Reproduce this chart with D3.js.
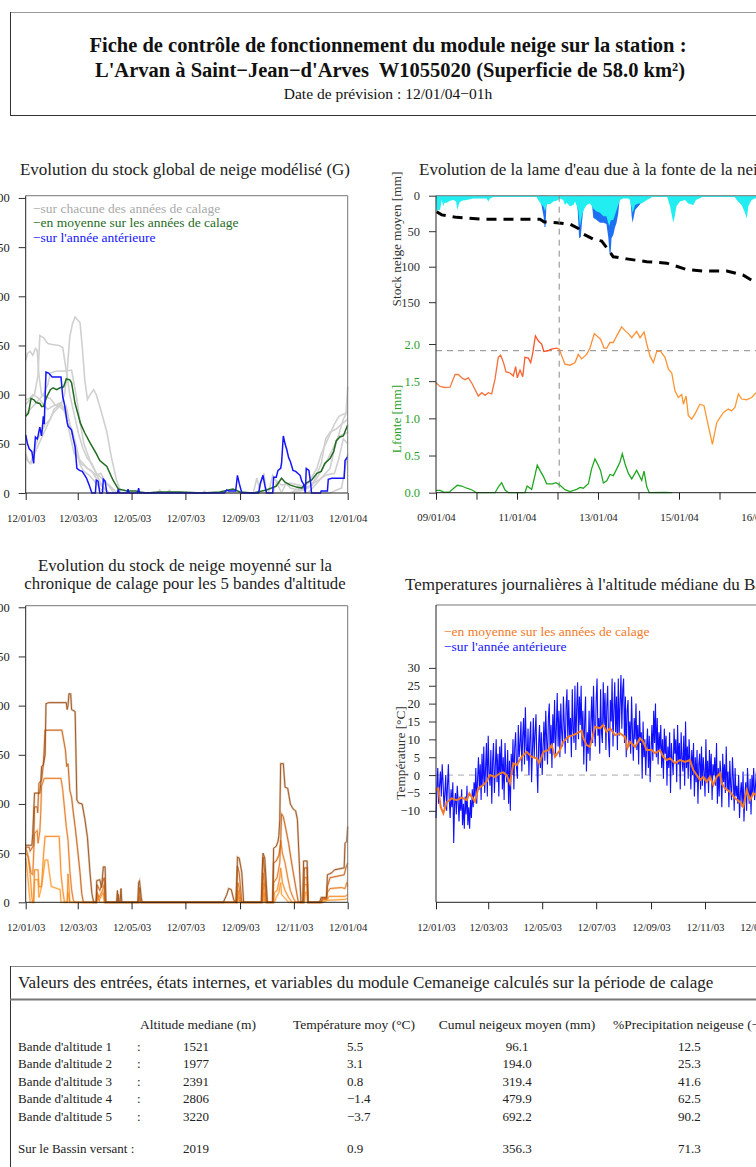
<!DOCTYPE html>
<html><head><meta charset="utf-8">
<script src="https://cdn.jsdelivr.net/npm/d3@7"></script>
<style>
body{margin:0;background:#fff;overflow:hidden}
svg{display:block}
text{font-family:"Liberation Serif","Times New Roman",serif}
</style>
</head><body>
<svg id="c" width="756" height="1167"></svg>
<script>
// ---------------- DATA ----------------
const yearTicks = ["12/01/03","12/03/03","12/05/03","12/07/03","12/09/03","12/11/03","12/01/04"];
const stockTicks = [0,50,100,150,200,250,300];

// Chart 1 : stock global G  [day since 12/01/03, mm]
const grayG1 = [[0,35],[5,30],[10,40],[20,60],[30,80],[40,90],[44,100],[46.5,118],[50,159],[53,172],[56,179],[59,176],[61.6,173],[64,150],[67,115],[70,95],[73,100],[77,105],[80,100],[84,88],[88,75],[92,62],[97,37],[103,13],[108,0],[150,0],[152,3],[154,0],[200,0],[203,2],[205,0],[300,0],[310,5],[320,10],[330,25],[335,40],[340,50],[345,60],[350,70],[355,78],[360,80],[365,82]];
const grayG2 = [[0,90],[5,95],[10,100],[14,120],[16,160],[20,158],[25,152],[30,151],[38,150],[42,148],[45,130],[50,100],[55,80],[60,60],[65,45],[70,35],[75,30],[80,20],[85,10],[90,3],[95,0],[258,0],[262,15],[265,5],[270,20],[273,0],[320,0],[330,10],[340,20],[345,25],[350,45],[355,60],[360,75],[363,80],[365,108]];
const grayG3 = [[0,135],[2,142],[5,144],[8,140],[11,147],[13,145],[15,120],[18,100],[22,98],[28,96],[33,90],[38,88],[42,85],[46,88],[50,70],[54,60],[58,45],[62,30],[66,28],[70,25],[75,22],[80,15],[85,8],[90,4],[95,0],[160,0],[163,3],[165,0],[300,0],[315,3],[330,12],[340,18],[350,20],[355,35],[360,55],[365,50]];
const grayG4 = [[0,80],[5,85],[10,90],[15,95],[20,100],[25,110],[28,122],[35,124],[45,124],[52,125],[55,110],[58,95],[62,70],[66,50],[70,40],[74,30],[80,20],[86,15],[92,10],[98,5],[104,0],[290,0],[295,10],[300,5],[310,3],[325,8],[335,30],[340,55],[345,62],[352,65],[358,70],[365,75]];
const grayG5 = [[0,40],[3,32],[6,30],[10,45],[14,55],[18,62],[22,70],[28,75],[32,85],[38,90],[42,88],[46,85],[50,70],[54,55],[58,40],[62,28],[66,22],[72,18],[78,12],[84,5],[90,0],[275,0],[280,18],[285,10],[290,0],[345,0],[350,2],[358,5],[365,40]];
const grayG6 = [[0,95],[4,96],[8,100],[12,98],[16,95],[20,90],[25,85],[30,88],[35,90],[40,92],[45,80],[50,60],[55,40],[60,35],[65,30],[70,25],[75,22],[80,18],[85,20],[90,12],[96,5],[100,0],[280,0],[285,12],[290,8],[300,10],[310,8],[320,5],[330,15],[340,30],[348,45],[355,58],[362,60],[365,62]];
const meanG = [[0,78],[3,81],[6,96],[9,95],[12,92],[16,91],[18,88],[20,88],[24,98],[28,105],[31,107],[35,105],[39,107],[43,108],[46,116],[50,115],[52,112],[56,91],[62,71],[67,61],[73,51],[80,40],[84,33],[92,27],[99,13],[105,4],[110,3],[115,2],[125,2],[130,1],[137,0],[150,1],[175,1],[200,0],[220,1],[235,4],[243,1],[258,0],[273,3],[284,7],[290,15],[294,11],[300,8],[307,6],[313,5],[318,10],[324,13],[330,20],[335,22],[339,30],[345,35],[349,42],[352,53],[356,57],[360,58],[364,67],[365,69]];
const prevG = [[0,59],[2,50],[4,45],[7,42],[9,30],[10,45],[11,57],[13,55],[14,58],[16,67],[18,58],[20,78],[21,70],[23,123],[26,122],[30,118],[40,118],[42,98],[44,90],[46,78],[47,72],[48,68],[50,66],[52,64],[54,55],[56,47],[58,25],[61,23],[64,22],[67,18],[69,15],[72,8],[75,0],[79,0],[80,13],[82,12],[84,0],[87,0],[88,14],[90,12],[92,0],[104,0],[105,4],[106,0],[115,0],[116,4],[117,0],[127,0],[128,5],[129,0],[225,0],[228,3],[230,2],[238,2],[240,18],[242,10],[245,0],[264,0],[266,10],[269,18],[271,8],[273,0],[280,0],[281,16],[284,16],[286,23],[289,25],[290,30],[292,58],[294,50],[296,44],[298,36],[300,32],[303,23],[306,22],[311,18],[313,12],[315,9],[317,0],[318,25],[321,23],[323,10],[324,0],[334,0],[335,2],[342,2],[343,14],[347,15],[361,15],[362,33],[365,37]];

// Chart 2 : lame d'eau  [hour since 09/01/04 00h, value]
const meltTicks = ["09/01/04","10/01/04","11/01/04","12/01/04","13/01/04","14/01/04","15/01/04","16/01/04","17/01/04"];
const meltTickLabels = ["09/01/04","","11/01/04","","13/01/04","","15/01/04","","16/01/04"];
const stockMeanTicks = [0,50,100,150];
const lfonteTicks = [0,0.5,1,1.5,2];
const forecastHour = 73;
const thresholdLine = 1.91;
const stockMean = [[0.4,22.5],[3.4,27],[12.3,30.5],[26,33],[61.6,33],[64.2,37],[71.5,38],[79.4,40],[84.3,46],[87.3,54],[93,61],[98.2,64],[103,79],[105,86],[113,89],[124.9,93],[136.7,95],[148.6,104],[158.2,106],[172.3,106],[182.1,112],[187,119],[190,124]];
const cyanMelt = [[0,1],[0.4,22],[1,20],[2.4,20],[3.4,6],[4.3,15],[5,10],[6.3,10],[8.3,7],[10.3,6],[11.9,8],[12.6,20],[13.8,10],[15.2,7],[18.2,6],[22.1,4],[26,4],[30,4],[31,8],[32,4],[34,2],[45,2],[59.7,2],[60.6,6],[62.6,13],[63.6,15],[64.6,22],[65.6,12],[67.6,12],[69.5,8],[71.5,7],[73.5,4],[75.4,6],[76.4,13],[77.4,10],[79.4,15],[81.4,13],[82.4,8],[84.3,20],[85.3,43],[86.3,30],[87.5,20],[89.3,13],[91.3,11],[93.2,18],[95,22],[97.2,24],[99.2,29],[101,29],[102.6,43],[103.5,35],[105.1,34],[107,20],[108,13],[109,6],[111,4],[114,4],[115,6],[116.5,24],[118,13],[119.9,11],[121.9,11],[124.9,6],[126.8,4],[128,2],[137,2],[138.7,15],[140.6,38],[141.5,29],[142.5,15],[144.6,8],[147.6,6],[149.5,11],[152.5,13],[154,6],[156,4],[158,2],[177,2],[178.2,6],[181.1,13],[183.1,24],[184.2,32],[185.1,15],[187,6],[189,4],[192,2]];
const blueMelt = [[61,0],[62.6,14],[63.8,30],[64.3,44],[64.9,44],[65.4,15],[66,0],[83,0],[84,22],[84.8,60],[85.8,58],[86.6,35],[87.2,22],[88,0],[92,0],[93.2,31],[95,34],[97.2,38],[99.2,38],[101,40],[102.1,59],[102.8,80],[103.4,85],[104,60],[105.1,55],[106,45],[107,38],[108,25],[109,0],[115,0],[116,30],[116.5,38],[117.2,30],[118,20],[119.9,15],[121,12],[122,0]];
const orangeIdx = [[0,1.478],[2.4,1.43],[5.3,1.415],[8.3,1.42],[11.3,1.59],[13.2,1.59],[15.2,1.545],[17.2,1.52],[19.2,1.545],[21.1,1.478],[25.1,1.30],[27.1,1.345],[29.1,1.31],[31,1.345],[33,1.33],[35,1.53],[36.9,1.82],[38.3,1.85],[40,1.75],[41.5,1.625],[43.9,1.61],[45.8,1.57],[47.2,1.695],[48.2,1.545],[49.8,1.65],[51.4,1.56],[52.7,1.82],[54.7,1.81],[56.1,1.75],[57.3,1.875],[58.9,2.11],[60.7,2.04],[62.6,2.0],[63.9,1.90],[66.6,1.91],[68.5,1.93],[71.5,1.945],[73.1,1.93],[74.5,1.84],[76.4,1.73],[79.4,1.715],[82.4,1.75],[84.3,1.86],[86.3,1.80],[89.3,1.86],[91.3,1.95],[93.8,2.14],[96.2,2.09],[97.5,2.065],[99.6,1.945],[101.2,1.945],[103.1,2.02],[105.1,2.02],[107.1,2.11],[110,2.23],[112,2.18],[114,2.14],[116,2.085],[118.9,2.17],[120.9,2.085],[123.3,2.16],[124.9,2.0],[126.8,1.84],[128.8,1.75],[130.8,1.90],[133.1,1.90],[135.7,1.82],[137.7,1.665],[139.7,1.61],[141.6,1.37],[143.6,1.28],[145.6,1.32],[146.6,1.19],[148.2,1.30],[149.5,1.04],[151.5,0.99],[153.5,1.06],[156.4,1.19],[158.8,1.17],[161.4,0.90],[163.8,0.65],[166.4,0.945],[170.3,1.08],[173.2,1.125],[175.2,1.10],[177.2,1.15],[179.2,1.33],[181.1,1.26],[184.1,1.25],[187.1,1.28],[189,1.33],[191,1.36]];
const lfonte = [[0,0.03],[2.4,0.03],[5,0.005],[8,0.01],[12.6,0.10],[15.2,0.09],[18.2,0.06],[21.1,0.04],[24.1,0],[35,0],[37,0.08],[38.9,0.135],[40.9,0.035],[43,0],[52.7,0],[54,0.09],[56.7,0.045],[58.1,0.18],[60,0.37],[61.6,0.30],[63.6,0.22],[65.6,0.12],[69,0.12],[71.1,0.135],[73.5,0.10],[76.4,0.04],[79.4,0.014],[83.4,0.045],[85.3,0.072],[87.3,0.06],[90.3,0.12],[92.2,0.32],[94.2,0.455],[96.2,0.365],[97.5,0.30],[99.2,0.13],[101.2,0.16],[103.1,0.245],[105.1,0.23],[107.1,0.32],[109,0.41],[110.4,0.525],[112,0.39],[114,0.26],[116,0.185],[118.9,0.30],[120.5,0.23],[121.9,0.165],[123.3,0.29],[124.9,0.08],[126.4,0],[135,0.005],[140,0]];

// Chart 3 : bandes d'altitude [day, mm]
const band5 = [[0,58],[7,58],[8,70],[10,111],[16,111],[17,120],[18,138],[20,140],[22,150],[23,202],[26,203],[46,203],[47,196],[48,200],[49,212],[51,212],[52,196],[56,194],[57,150],[58,104],[60,101],[64,100],[67,85],[70,66],[73,29],[75,9],[77,0],[80,0],[80.5,22],[84,23],[86,15],[88,36],[90,36],[91,0],[103,0],[104,12],[105,0],[107,0],[108,14],[109,0],[127,0],[128,20],[129,22],[131,5],[132,0],[224,0],[228,8],[230,14],[233,13],[236,2],[239,0],[240,46],[242,45],[245,30],[247,0],[267,0],[268,30],[269,50],[271,45],[274,0],[280,0],[281,55],[284,57],[286,62],[287,68],[288,84],[289,141],[292,141],[294,117],[297,116],[300,100],[303,95],[306,93],[308,84],[310,43],[312,0],[314,0],[315,42],[319,42],[320,0],[333,0],[335,5],[341,5],[342,28],[347,30],[350,33],[361,35],[362,60],[364,62],[365,77]];
const band4 = [[0,56],[4,56],[5,52],[9,58],[10,97],[13,97],[13.6,91],[15,121],[18,124],[20,140],[22,175],[41,175],[43,165],[45,155],[46.5,138],[48,141],[50,114],[52,107],[54,91],[56,77],[58.6,56],[61.6,30],[63.5,9],[65.4,0],[80,0],[81,18],[84,12],[87,20],[89,25],[90,0],[104,0],[105,8],[106,0],[128,0],[129,15],[130,0],[238,0],[240,37],[242,30],[245,0],[268,0],[269,46],[271,30],[273,0],[280,0],[281,40],[284,42],[287,48],[289,60],[290,90],[292,87],[295,74],[298,60],[302,37],[306,16],[309,0],[315,0],[316,35],[319,35],[320,0],[335,0],[336,4],[341,4],[342,16],[345,25],[361,28],[363,35],[365,40]];
const band3 = [[0,55],[2,50],[4,40],[6,30],[8,28],[10,70],[13,73],[14,60],[16,72],[17,90],[18,118],[21,126],[40,126],[42,114],[46,77],[48,63],[50,33],[52,13],[54,2],[56,0],[80,0],[81,10],[83,5],[87,12],[89,18],[90,0],[128,0],[129,6],[130,0],[240,0],[240.5,20],[242,15],[244,0],[268,0],[269,30],[271,15],[273,0],[280,0],[281,20],[285,25],[288,40],[289,63],[291,50],[294,40],[297,25],[300,12],[303,5],[306,0],[315,0],[316,25],[319,25],[320,0],[335,0],[336,3],[341,3],[342,10],[345,14],[358,15],[362,14],[364,20],[365,16]];
const band2 = [[0,50],[3,46],[5,29],[7,5],[8,0],[9,0],[10,33],[14,33],[15,16],[18,16],[20,46],[22,67],[38,67],[40,29],[42,12],[44,0],[47,0],[48,29],[50,0],[80,0],[81,8],[83,2],[88,10],[89,0],[240,0],[241,12],[243,0],[268,0],[269,20],[271,0],[281,0],[282,10],[285,12],[288,25],[289,35],[291,20],[294,12],[298,5],[302,0],[315,0],[316,18],[319,18],[320,0],[336,0],[337,2],[342,3],[344,6],[362,6],[365,8]];
const band1 = [[0,45],[2,30],[4,10],[5,0],[9,0],[10,23],[14,23],[15,5],[17,12],[19,23],[22,43],[25,43],[27,29],[29,16],[39,13],[40,0],[47,0],[48,10],[50,0],[80,0],[82,5],[84,0],[240,0],[241,6],[243,0],[269,0],[270,10],[272,0],[282,0],[284,5],[287,10],[289,20],[290,8],[293,5],[298,0],[316,0],[317,10],[319,10],[320,0],[337,0],[342,2],[362,3],[365,4]];

// Chart 4 : temperatures
const tempTicks = [-10,-5,0,5,10,15,20,25,30];
const meanTemp = [[0,-4.2],[2.6,-3.7],[5.3,-8.9],[8.3,-10.7],[12,-7.7],[17.7,-6.5],[23.4,-7],[29,-6.3],[34.7,-7],[37.7,-5.1],[44,-7.4],[47.8,-3.7],[53.5,-2.8],[57.2,-1.8],[61,0],[66.7,-0.5],[72.3,0.5],[76,0.75],[79.9,0],[83.6,-2.3],[87.4,3.3],[91.2,2.8],[96.8,5.1],[102.5,6.5],[108.1,5.1],[113.8,4.7],[116.8,3.3],[121.3,6.5],[127,7],[130.7,8.4],[134.5,5.1],[140.1,7],[143.8,9.3],[149.5,10.7],[155.1,11.2],[159,11.7],[164.6,12.4],[166.5,10.3],[170.2,8.4],[174,7.9],[179.7,13.5],[185.3,13.1],[189,14],[192.8,12.1],[196.6,13.1],[202.3,11.2],[207.9,11.7],[213.6,10.7],[216.2,7.5],[219.2,9.3],[224.9,7.9],[230.5,10.3],[234.3,9.3],[238,7],[243.7,7],[247.5,6.1],[253.1,7],[256.9,5.1],[260.7,4.2],[264.4,4.7],[270.1,3.3],[275.7,4.2],[281.4,3.7],[287,4.2],[290.8,1.4],[294.6,0],[298.4,-1.4],[302.1,-0.5],[305.9,-1.9],[309.6,-0.5],[313.4,-2.8],[317.2,-0.5],[320.9,0.5],[322.8,-2.3],[326.6,-3.7],[332.2,-4.7],[337.9,-6.5],[343.5,-7.5],[347.3,-8.9],[351.1,-4.2],[354.9,-7],[358.6,-5.1],[361.7,-5.6],[365,-5.2]];
// previous year, one value per day from 12/01/03
const prevTemp = [
-12,-4,2,-8,-3,1,-6,3,-2,-9,
-5,0,-10,-3,3,-7,-12,-4,-9,-2,
-19,-8,-5,-11,-3,-7,-13,-6,-10,-4,
-14,-8,-15,-6,-11,-3,-14,-9,-15,-7,
-12,-4,-9,-2,-6,2,-8,-1,5,-4,
3,-7,6,-3,8,-5,2,9,-6,11,
1,-3,7,-8,4,9,-5,2,10,-2,
6,-6,8,0,10,-4,5,-7,9,1,
-2,7,-8,4,-10,6,0,10,-4,8,
12,2,-1,14,5,9,15,1,11,16,
3,19,8,4,13,0,10,15,-2,7,
16,5,12,17,3,-5,9,14,2,12,
0,8,15,4,18,10,3,16,20,6,
14,2,17,9,21,6,13,23,8,18,
5,20,12,8,22,14,6,19,24,9,
21,11,16,5,24,13,9,25,7,19,
26,10,22,14,25,8,18,3,15,22,
1,12,6,18,4,15,22,9,25,13,
8,21,27,11,16,6,24,12,9,26,
14,23,7,19,25,10,5,21,15,27,
8,18,26,12,22,7,27,11,20,28,
13,24,27,9,22,5,18,21,8,15,
6,22,12,4,16,10,20,7,14,3,
18,9,12,-1,15,5,10,0,8,13,
2,11,-2,7,14,4,18,9,20,5,
16,3,12,7,14,2,10,-1,13,6,
11,-3,8,2,12,-5,9,4,0,13,
6,10,-2,14,3,9,-4,12,5,1,
11,-3,15,2,8,-1,10,4,-4,7,
0,9,-6,5,-2,7,-8,3,6,-4,
8,-3,5,1,-6,10,-2,4,-5,7,
-1,6,-7,3,0,5,-3,9,-8,2,
-6,4,0,-9,6,-2,3,-5,8,-4,
1,-9,4,-3,-7,5,-1,-10,2,-6,
-3,-8,0,-12,-5,-2,-9,1,-13,-6,
-2,-10,2,-4,-8,-1,-11,0,-5,2,
-7,-3,1,-6,-4];

// Table
const tableTitle = "Valeurs des entrées, états internes, et variables du module Cemaneige calculés sur la période de calage";
const tableHeaders = ["Altitude mediane (m)","Température moy (°C)","Cumul neigeux moyen (mm)","%Precipitation neigeuse (−)"];
const rowNames = ["Bande d'altitude 1","Bande d'altitude 2","Bande d'altitude 3","Bande d'altitude 4","Bande d'altitude 5"];
const altitudes = ["1521","1977","2391","2806","3220"];
const tempMoy = ["5.5","3.1","0.8","−1.4","−3.7"];
const cumulNeige = ["96.1","194.0","319.4","479.9","692.2"];
const pctNeige = ["12.5","25.3","41.6","62.5","90.2"];
const bassin = ["Sur le Bassin versant :","2019","0.9","356.3","71.3"];

// ---------------- DRAWING ----------------
const svg = d3.select("#c");
const parse = d3.timeParse("%d/%m/%y");
const T0 = parse("12/01/03"), T1 = parse("12/01/04");
const dayToDate = d => new Date(T0.getTime() + d*86400000);
const H0 = parse("09/01/04");
const hourToDate = h => new Date(H0.getTime() + h*3600000);
const fmt = d3.timeFormat("%d/%m/%y");
const TITLE_FS = 17, LEG_FS = 13.5, AXLAB_FS = 13.3;

// header box
svg.append("line").attr("x1",10).attr("x2",800).attr("y1",12.5).attr("y2",12.5).attr("stroke","#999");
svg.append("line").attr("x1",10.5).attr("x2",10.5).attr("y1",12).attr("y2",116).attr("stroke","#333");
svg.append("line").attr("x1",10).attr("x2",800).attr("y1",115.5).attr("y2",115.5).attr("stroke","#333");
svg.append("text").attr("x",388).attr("y",52).attr("text-anchor","middle").attr("font-size",20.5).attr("font-weight","bold").attr("fill","#111")
  .text("Fiche de contrôle de fonctionnement du module neige sur la station :");
svg.append("text").attr("x",390).attr("y",77).attr("text-anchor","middle").attr("font-size",20.5).attr("font-weight","bold").attr("fill","#111").attr("xml:space","preserve")
  .text("L'Arvan à Saint−Jean−d'Arves  W1055020 (Superficie de 58.0 km²)");
svg.append("text").attr("x",388).attr("y",99).attr("text-anchor","middle").attr("font-size",15.5).attr("fill","#111")
  .text("Date de prévision : 12/01/04−01h");

function leftAxis(g, y, x0, ticks, fmtFn, color){
  const ax = d3.axisLeft(y).tickValues(ticks).tickSize(7).tickPadding(9).tickFormat(fmtFn);
  const a = g.append("g").attr("transform",`translate(${x0},0)`).call(ax);
  a.select(".domain").remove();
  a.selectAll("line").attr("stroke","#333");
  a.selectAll("text").attr("font-size",12.5).attr("fill",color||"#222").attr("font-family","Liberation Serif");
  return a;
}
function bottomAxis(g, x, y0, tickDates, labels){
  const ax = d3.axisBottom(x).tickValues(tickDates).tickSize(7).tickPadding(14)
    .tickFormat((d,i)=>labels?labels[i]:fmt(d));
  const a = g.append("g").attr("transform",`translate(0,${y0})`).call(ax);
  a.select(".domain").remove();
  a.selectAll("line").attr("stroke","#222");
  a.selectAll("text").attr("font-size",10.8).attr("fill","#222").attr("font-family","Liberation Serif");
  return a;
}
function frame(g,x0,y0,x1,y1){
  g.append("line").attr("x1",x0).attr("x2",x1).attr("y1",y0).attr("y2",y0).attr("stroke","#777");
  g.append("line").attr("x1",x1).attr("x2",x1).attr("y1",y0).attr("y2",y1).attr("stroke","#777");
  g.append("line").attr("x1",x0).attr("x2",x1).attr("y1",y1).attr("y2",y1).attr("stroke","#222");
  g.append("line").attr("x1",x0).attr("x2",x0).attr("y1",y0).attr("y2",y1).attr("stroke","#222");
}

// ---- Chart 1 ----
{
  const g = svg.append("g");
  const x = d3.scaleTime().domain([T0,T1]).range([25.7,347.7]);
  const y = d3.scaleLinear().domain([0,302.3]).range([493,195.7]);
  const line = d3.line().x(d=>x(dayToDate(d[0]))).y(d=>y(d[1]));
  g.append("text").attr("x",185).attr("y",175).attr("text-anchor","middle").attr("font-size",TITLE_FS).attr("fill","#222")
    .text("Evolution du stock global de neige modélisé (G)");
  [grayG1,grayG2,grayG3,grayG4,grayG5,grayG6].forEach(s=>{
    g.append("path").attr("d",line(s)).attr("fill","none").attr("stroke","#d0d0d0").attr("stroke-width",1.6);
  });
  g.append("path").attr("d",line(meanG)).attr("fill","none").attr("stroke","#1f6b1f").attr("stroke-width",1.5);
  g.append("path").attr("d",line(prevG)).attr("fill","none").attr("stroke","#1414ff").attr("stroke-width",1.5);
  frame(g,25.7,195.7,347.7,493);
  leftAxis(g,y,25.7,stockTicks,d3.format("d"));
  bottomAxis(g,x,493,yearTicks.map(parse));
  const leg = [["−sur chacune des années de calage","#aaaaaa"],["−en moyenne sur les années de calage","#1f6b1f"],["−sur l'année antérieure","#1414ff"]];
  leg.forEach((l,i)=>g.append("text").attr("x",33).attr("y",212.5+i*14.6).attr("font-size",LEG_FS).attr("fill",l[1]).text(l[0]));
}

// ---- Chart 2 ----
{
  const g = svg.append("g");
  const x = d3.scaleTime().domain([H0, hourToDate(192)]).range([436,760]);
  const yS = d3.scaleLinear().domain([0,150]).range([195.7,302.2]);
  const yL = d3.scaleLinear().domain([0,2]).range([492.7,344]);
  g.append("text").attr("x",419).attr("y",175).attr("font-size",TITLE_FS).attr("fill","#222")
    .text("Evolution de la lame d'eau due à la fonte de la neige (Lfonte)");
  const area = d3.area().x(d=>x(hourToDate(d[0]))).y0(yS(0)).y1(d=>yS(d[1]));
  g.append("path").attr("d",area(blueMelt)).attr("fill","#1f6ff2");
  g.append("path").attr("d",area(cyanMelt)).attr("fill","#22eef2");
  g.append("path").attr("d",d3.line().x(d=>x(hourToDate(d[0]))).y(d=>yS(d[1]))(stockMean))
    .attr("fill","none").attr("stroke","#000").attr("stroke-width",3).attr("stroke-dasharray","10,7");
  g.append("line").attr("x1",x(hourToDate(forecastHour))).attr("x2",x(hourToDate(forecastHour))).attr("y1",195.7).attr("y2",492.7)
    .attr("stroke","#888").attr("stroke-dasharray","6,5");
  g.append("line").attr("x1",436).attr("x2",800).attr("y1",yL(thresholdLine)).attr("y2",yL(thresholdLine))
    .attr("stroke","#888").attr("stroke-dasharray","6,5");
  const defs = svg.append("defs");
  const grad = defs.append("linearGradient").attr("id","og").attr("gradientUnits","userSpaceOnUse")
    .attr("x1",436).attr("x2",756).attr("y1",0).attr("y2",0);
  [[0,"#f0814a"],[0.22,"#f56a35"],[0.36,"#ff4a20"],[0.39,"#ff8a38"],[1,"#ff9a2e"]].forEach(s=>grad.append("stop").attr("offset",s[0]).attr("stop-color",s[1]));
  g.append("path").attr("d",d3.line().x(d=>x(hourToDate(d[0]))).y(d=>yL(d[1]))(orangeIdx))
    .attr("fill","none").attr("stroke","url(#og)").attr("stroke-width",1.3);
  g.append("path").attr("d",d3.line().x(d=>x(hourToDate(d[0]))).y(d=>yL(d[1]))(lfonte))
    .attr("fill","none").attr("stroke","#20a820").attr("stroke-width",1.3);
  frame(g,436,195.7,800,492.7);
  leftAxis(g,yS,436,stockMeanTicks,d3.format("d"),"#333");
  leftAxis(g,yL,436,lfonteTicks,d3.format(".1f"),"#2aa02a");
  bottomAxis(g,x,492.7,meltTicks.map(parse),meltTickLabels);
  g.append("text").attr("transform","translate(401,239) rotate(-90)").attr("text-anchor","middle").attr("font-size",AXLAB_FS).attr("fill","#333").text("Stock neige moyen [mm]");
  g.append("text").attr("transform","translate(401,419) rotate(-90)").attr("text-anchor","middle").attr("font-size",AXLAB_FS).attr("fill","#2aa02a").text("Lfonte [mm]");
}

// ---- Chart 3 ----
{
  const g = svg.append("g");
  const x = d3.scaleTime().domain([T0,T1]).range([25.7,347.7]);
  const y = d3.scaleLinear().domain([0,301.6]).range([902.3,605.7]);
  const line = d3.line().x(d=>x(dayToDate(d[0]))).y(d=>y(d[1]));
  g.append("text").attr("x",185).attr("y",571).attr("text-anchor","middle").attr("font-size",16.8).attr("fill","#222").text("Evolution du stock de neige moyenné sur la");
  g.append("text").attr("x",185).attr("y",589).attr("text-anchor","middle").attr("font-size",16.8).attr("fill","#222").text("chronique de calage pour les 5 bandes d'altitude");
  const cols = ["#ff9a2a","#f88a22","#e8781c","#c86418","#9a5016"];
  [band1,band2,band3,band4,band5].forEach((s,i)=>{
    g.append("path").attr("d",line(s)).attr("fill","none").attr("stroke",cols[i]).attr("stroke-width",2.2).attr("stroke-opacity",0.3);
    g.append("path").attr("d",line(s)).attr("fill","none").attr("stroke",cols[i]).attr("stroke-width",0.9);
  });
  frame(g,25.7,605.7,347.7,902.3);
  leftAxis(g,y,25.7,stockTicks,d3.format("d"));
  bottomAxis(g,x,902.3,yearTicks.map(parse));
}

// ---- Chart 4 ----
{
  const g = svg.append("g");
  const x = d3.scaleTime().domain([T0,T1]).range([436,759]);
  const y = d3.scaleLinear().domain([-35.6,47.6]).range([902.3,605]);
  g.append("text").attr("x",405).attr("y",590).attr("font-size",TITLE_FS).attr("fill","#222")
    .text("Temperatures journalières à l'altitude médiane du Bassin");
  g.append("line").attr("x1",436).attr("x2",800).attr("y1",y(0)).attr("y2",y(0)).attr("stroke","#aaa").attr("stroke-dasharray","6,5");
  const prevPts = prevTemp.map((v,i)=>[i,v]);
  g.append("path").attr("d",d3.line().x(d=>x(dayToDate(d[0]))).y(d=>y(d[1]))(prevPts))
    .attr("fill","none").attr("stroke","#1010ff").attr("stroke-width",1.1);
  g.append("path").attr("d",d3.line().x(d=>x(dayToDate(d[0]))).y(d=>y(d[1]))(meanTemp))
    .attr("fill","none").attr("stroke","#f07a28").attr("stroke-width",2);
  frame(g,436,605,800,902.3);
  leftAxis(g,y,436,tempTicks,d3.format("d"));
  bottomAxis(g,x,902.3,yearTicks.map(parse));
  g.append("text").attr("transform","translate(405,753) rotate(-90)").attr("text-anchor","middle").attr("font-size",AXLAB_FS).attr("fill","#333").text("Température [°C]");
  g.append("text").attr("x",444).attr("y",636).attr("font-size",LEG_FS).attr("fill","#f07a28").text("−en moyenne sur les années de calage");
  g.append("text").attr("x",444).attr("y",651).attr("font-size",LEG_FS).attr("fill","#1414ff").text("−sur l'année antérieure");
}

// ---- Table ----
{
  const g = svg.append("g");
  const fs = 13;
  g.append("line").attr("x1",10).attr("x2",800).attr("y1",966.5).attr("y2",966.5).attr("stroke","#888");
  g.append("line").attr("x1",10.5).attr("x2",10.5).attr("y1",966).attr("y2",1167).attr("stroke","#333");
  g.append("line").attr("x1",10).attr("x2",800).attr("y1",999.5).attr("y2",999.5).attr("stroke","#777").attr("stroke-width",2);
  g.append("text").attr("x",18).attr("y",988).attr("font-size",17).attr("fill","#222").text(tableTitle);
  const hx = [198,354,517,613];
  tableHeaders.forEach((h,i)=>g.append("text").attr("x",hx[i]).attr("y",1028.5).attr("text-anchor",i<3?"middle":"start").attr("font-size",13.5).attr("fill","#222").text(h));
  const ry = [1050.5,1068,1085.5,1103,1120.5];
  const cell = (x,y,t,anchor)=>g.append("text").attr("x",x).attr("y",y).attr("text-anchor",anchor||"start").attr("font-size",fs).attr("fill","#222").text(t);
  rowNames.forEach((r,i)=>{
    cell(18,ry[i],r);
    cell(137,ry[i],":");
    cell(196,ry[i],altitudes[i],"middle");
    cell(347,ry[i],tempMoy[i]);
    cell(517,ry[i],cumulNeige[i],"middle");
    cell(678,ry[i],pctNeige[i]);
  });
  const by = 1152.5;
  cell(18,by,bassin[0]);
  cell(196,by,bassin[1],"middle");
  cell(347,by,bassin[2]);
  cell(517,by,bassin[3],"middle");
  cell(678,by,bassin[4]);
}
</script>
</body></html>
